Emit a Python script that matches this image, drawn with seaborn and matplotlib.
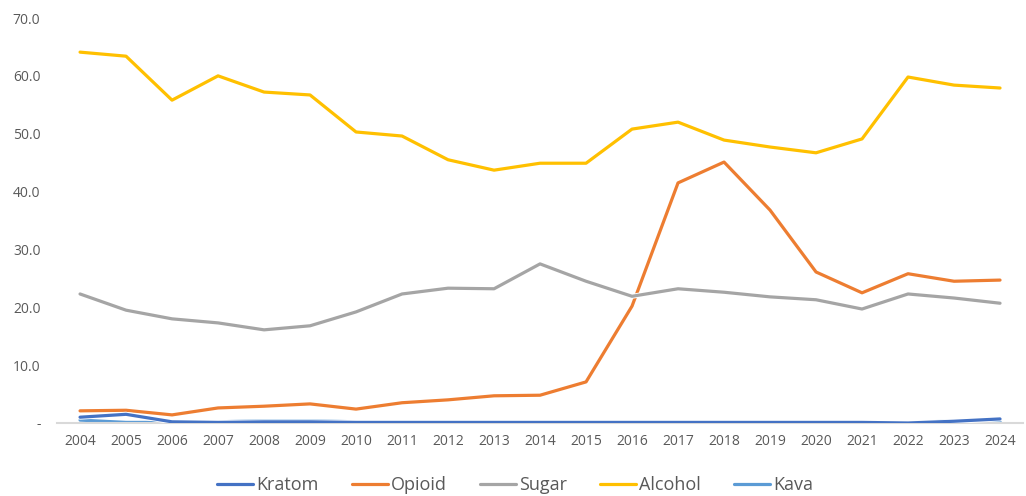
import matplotlib
matplotlib.use("Agg")
import matplotlib.pyplot as plt
import matplotlib.patheffects as pe
import seaborn as sns
import pandas as pd

# Chart data
years = list(range(2004, 2025))
kratom = [1.0, 1.5, 0.2, 0.1, 0.2, 0.2, 0.1, 0.1, 0.1, 0.1, 0.1, 0.1, 0.1, 0.1, 0.1, 0.1, 0.1, 0.1, 0.0, 0.3, 0.7]
opioid = [2.1, 2.2, 1.4, 2.6, 2.9, 3.3, 2.4, 3.5, 4.0, 4.7, 4.8, 7.1, 20.2, 41.5, 45.1, 36.8, 26.1, 22.5, 25.8, 24.5, 24.7]
sugar = [22.3, 19.5, 18.0, 17.3, 16.1, 16.8, 19.2, 22.3, 23.3, 23.2, 27.5, 24.5, 21.9, 23.2, 22.6, 21.8, 21.3, 19.7, 22.3, 21.6, 20.7]
alcohol = [64.1, 63.4, 55.8, 60.0, 57.2, 56.7, 50.3, 49.6, 45.5, 43.7, 44.9, 44.9, 50.8, 52.0, 48.9, 47.7, 46.7, 49.1, 59.8, 58.4, 57.9]
kava = [0.5, 0.1, 0.1, 0.2, 0.4, 0.4, 0.2, 0.2, 0.2, 0.1, 0.2, 0.1, 0.1, 0.1, 0.2, 0.1, 0.1, 0.1, 0.0, 0.4, 0.3]

series = ["Kratom", "Opioid", "Sugar", "Alcohol", "Kava"]
colors = ["#4472C4", "#ED7D31", "#A5A5A5", "#FFC000", "#5B9BD5"]
yticks = [0, 10, 20, 30, 40, 50, 60, 70]

frames = []
for name, vals in zip(series, [kratom, opioid, sugar, alcohol, kava]):
    frames.append(pd.DataFrame({"Year": years, "Value": vals, "Series": name}))
df = pd.concat(frames, ignore_index=True)

sns.set_style("white")
plt.rcParams["font.family"] = ["Open Sans", "DejaVu Sans"]

fig = plt.figure(figsize=(10.26, 4.96), dpi=100)
ax = fig.add_axes([0.0556, 0.1472, 0.9415, 0.8165])

sns.lineplot(data=df, x="Year", y="Value", hue="Series", hue_order=series,
             palette=colors, linewidth=2.3, ax=ax, legend=False)

for line in ax.get_lines():
    line.set_path_effects([pe.Stroke(linewidth=3.6, foreground="white"), pe.Normal()])
# Kratom sits on top of Kava near the baseline
ax.get_lines()[0].set_zorder(3)

ax.set_xlim(2003.5, 2024.5)
ax.set_ylim(0, 70)
ax.set_xticks(years)
ax.set_xticklabels([str(y) for y in years])
ax.set_yticks(yticks)
ax.set_yticklabels(["-"] + [f"{v:.1f}" for v in yticks[1:]])
ax.set_xlabel("")
ax.set_ylabel("")

for side in ["top", "right", "left"]:
    ax.spines[side].set_visible(False)
ax.spines["bottom"].set_color("#D9D9D9")
ax.spines["bottom"].set_linewidth(1.5)
ax.tick_params(axis="both", length=0, labelsize=10, colors="#595959")
ax.tick_params(axis="x", pad=8)
ax.tick_params(axis="y", pad=12)

handles = [plt.Line2D([], [], color=c, linewidth=2.3) for c in colors]
fig.legend(handles, series, loc="center", bbox_to_anchor=(0.502, 0.022),
           ncol=5, frameon=False, fontsize=13, labelcolor="#595959",
           handlelength=2.0, handletextpad=0.15, columnspacing=1.85)

plt.savefig("out.png", dpi=100)
